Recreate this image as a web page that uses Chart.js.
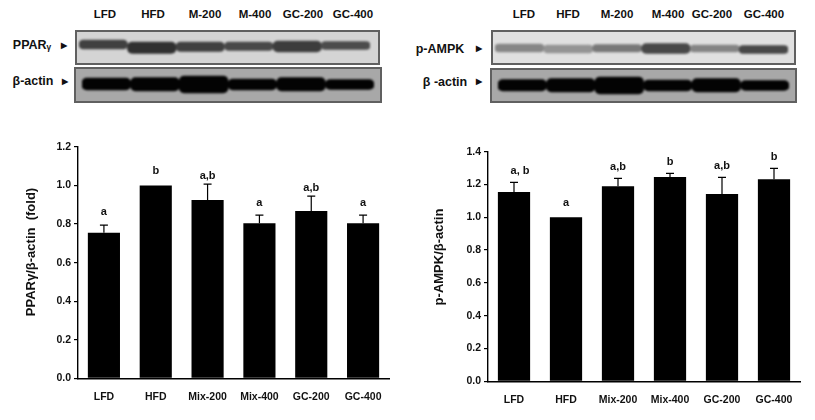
<!DOCTYPE html>
<html>
<head>
<meta charset="utf-8">
<script src="https://cdn.jsdelivr.net/npm/chart.js@4"></script>
<style>
  body { margin: 0; background: #fff; width: 815px; height: 420px; overflow: hidden; font-family: "Liberation Sans", Arial, sans-serif; font-weight: bold; color: #111; }
  .abs { position: absolute; }
  .blot { position: absolute; box-sizing: border-box; border: 2px solid #606060; overflow: hidden; }
  .blot canvas { filter: blur(1.2px); }
  .txt { position: absolute; white-space: nowrap; transform: translate(-50%, -50%); }
</style>
</head>
<body>
<div class="blot" style="left:75px;top:30px;width:305px;height:35px;background:#d4d4d4"><canvas id="blotA"></canvas></div>
<div class="blot" style="left:74px;top:67px;width:308px;height:36px;background:#a8a8a8"><canvas id="blotB"></canvas></div>
<div class="blot" style="left:491px;top:30px;width:305px;height:35px;background:#e0e0e0"><canvas id="blotC"></canvas></div>
<div class="blot" style="left:490px;top:68px;width:307px;height:35px;background:#a8a8a8"><canvas id="blotD"></canvas></div>
<canvas id="leftChart" class="abs" style="left:0;top:130px"></canvas>
<canvas id="rightChart" class="abs" style="left:410px;top:130px"></canvas>
<div id="labels"></div>
<script>
// bar values
var barLabels = ["LFD", "HFD", "Mix-200", "Mix-400", "GC-200", "GC-400"];
var ppar = [0.755, 1.0, 0.925, 0.805, 0.868, 0.805];
var pparErrTop = [0.795, null, 1.007, 0.847, 0.945, 0.847];
var pparLetters = ["a", "b", "a,b", "a", "a,b", "a"];
var pparLetterY = [0.864, 1.075, 1.052, 0.909, 0.985, 0.909];
var ampk = [1.154, 1.0, 1.19, 1.245, 1.142, 1.232];
var ampkErrTop = [1.213, null, 1.237, 1.268, 1.243, 1.298];
var ampkLetters = ["a, b", "a", "a,b", "b", "a,b", "b"];
var ampkLetterY = [1.284, 1.089, 1.305, 1.34, 1.315, 1.366];

// blot bands, low/high edge of each lane's band
var pparBandLow = [8, 10, 10, 10, 9, 9.5];
var pparBandHigh = [17, 21.5, 19.5, 18.5, 20, 17.5];
var actinBandLow = [9, 8.5, 7, 10, 8.5, 10.5];
var actinBandHigh = [21, 22, 24, 21, 22, 20.5];
var ampkBandLow = [12, 13, 12.5, 11.5, 13, 13.5];
var ampkBandHigh = [20, 21, 20, 21.5, 20, 21.5];
var actinBand2Low = [9.5, 8.5, 7, 10, 8.5, 10.5];
var actinBand2High = [21, 22, 24, 21, 22, 20.5];
var pparBandColor = ["#404040", "#303030", "#404040", "#484848", "#3c3c3c", "#4c4c4c"];
var actinBandColor = ["#030303", "#030303", "#030303", "#030303", "#030303", "#030303"];
var ampkBandColor = ["#868686", "#949494", "#787878", "#484848", "#848484", "#484848"];

function zip(a, b) {
  return a.map(function (v, i) { return [v, b[i]]; });
}

function makeBlot(can, w, h, low, high, colors, padL, padR) {
  var el = document.getElementById(can);
  el.width = w;
  el.height = h;
  return new Chart(el, {
    type: "bar",
    data: {
      labels: barLabels,
      datasets: [{
        data: zip(low, high),
        backgroundColor: colors,
        barPercentage: 1,
        categoryPercentage: 1,
        borderRadius: 5,
        borderSkipped: false
      }]
    },
    options: {
      responsive: false,
      animation: false,
      layout: { padding: { left: padL, right: padR } },
      plugins: { legend: { display: false }, tooltip: { enabled: false } },
      scales: {
        x: { display: false },
        y: { display: false, reverse: true, min: 0, max: h }
      }
    }
  });
}

var errPlugin = {
  id: "errPlugin",
  afterDatasetsDraw: function (chart, args, opts) {
    var c = chart.ctx, sx = chart.scales.x, sy = chart.scales.y;
    c.save();
    c.strokeStyle = "#000";
    c.lineWidth = 1.2;
    c.fillStyle = "#111";
    c.font = "bold 11px 'Liberation Sans'";
    c.textAlign = "center";
    c.textBaseline = "middle";
    opts.values.forEach(function (v, i) {
      var x = sx.getPixelForValue(i);
      if (opts.tops[i] !== null) {
        var t = sy.getPixelForValue(opts.tops[i]);
        c.beginPath();
        c.moveTo(x, sy.getPixelForValue(v));
        c.lineTo(x, t);
        c.moveTo(x - 4, t);
        c.lineTo(x + 4, t);
        c.stroke();
      }
      c.fillText(opts.letters[i], x + (opts.shift ? opts.shift[i] : 0), sy.getPixelForValue(opts.letterY[i]));
    });
    // axis title sits higher than the centre of the axis
    c.translate(opts.titleX, opts.titleY);
    c.rotate(-Math.PI / 2);
    c.font = "bold 13px 'Liberation Sans'";
    c.fillText(opts.title, 0, 0);
    c.restore();
  }
};

function makeBars(can, w, h, values, tops, letters, letterY, max, title, titleX, titleY, topPad, xHeight, rightPad, shift) {
  var el = document.getElementById(can);
  el.width = w;
  el.height = h;
  return new Chart(el, {
    type: "bar",
    data: {
      labels: barLabels,
      datasets: [{
        data: values,
        backgroundColor: "#000",
        barPercentage: 0.62,
        categoryPercentage: 1
      }]
    },
    plugins: [errPlugin],
    options: {
      responsive: false,
      animation: false,
      layout: { padding: { top: topPad, right: rightPad } },
      plugins: {
        legend: { display: false },
        tooltip: { enabled: false },
        errPlugin: { values: values, tops: tops, letters: letters, letterY: letterY, shift: shift, title: title, titleX: titleX, titleY: titleY }
      },
      scales: {
        x: {
          afterFit: function (s) { s.height = xHeight; },
          grid: { display: false },
          border: { color: "#000", width: 1.4 },
          ticks: { color: "#111", padding: 5, maxRotation: 0, autoSkip: false, font: { family: "Liberation Sans", weight: "bold", size: 10.5 } }
        },
        y: {
          min: 0,
          max: max,
          afterFit: function (s) { s.width = 78; },
          afterBuildTicks: function (s) {
            s.ticks = [];
            for (var i = 0; i <= max * 5 + 0.001; i++) s.ticks.push({ value: i / 5 });
          },
          grid: { drawOnChartArea: false, color: "#000", tickLength: 4, lineWidth: 1.2 },
          border: { color: "#000", width: 1.4 },
          ticks: { color: "#111", padding: 3, callback: function (v) { return v.toFixed(1); }, font: { family: "Liberation Sans", weight: "bold", size: 10.5 } }
        }
      }
    }
  });
}

makeBlot("blotA", 301, 31, pparBandLow, pparBandHigh, pparBandColor, 2, 8);
makeBlot("blotB", 304, 32, actinBandLow, actinBandHigh, actinBandColor, 6, 6);
makeBlot("blotC", 301, 31, ampkBandLow, ampkBandHigh, ampkBandColor, 2, 6);
makeBlot("blotD", 303, 31, actinBand2Low, actinBand2High, actinBandColor, 6, 6);

makeBars("leftChart", 400, 290, ppar, pparErrTop, pparLetters, pparLetterY, 1.2, "PPARγ/β-actin  (fold)", 31, 122, 17, 41.7, 11);
makeBars("rightChart", 405, 290, ampk, ampkErrTop, ampkLetters, ampkLetterY, 1.4, "p-AMPK/β-actin", 29, 127, 21.7, 38.7, 15, [6, 0, 0, 0, 0, 0]);

// text around the blots
var textItems = [
  ["LFD", 105, 14, 11.5], ["HFD", 153, 14, 11.5], ["M-200", 205, 14, 11.5], ["M-400", 255, 14, 11.5], ["GC-200", 303, 14, 11.5], ["GC-400", 353, 14, 11.5],
  ["LFD", 524, 14, 11.5], ["HFD", 568, 14, 11.5], ["M-200", 617, 14, 11.5], ["M-400", 668, 14, 11.5], ["GC-200", 712, 14, 11.5], ["GC-400", 764, 14, 11.5],
  ["PPARᵧ", 32, 45, 12.5], ["β-actin", 33, 81, 12.5], ["p-AMPK", 440, 49, 12.5], ["β -actin", 445, 82, 12.5],
  ["▶", 64, 45, 8], ["▶", 65, 81, 8], ["▶", 479, 48, 8], ["▶", 479, 81, 8]
];
var box = document.getElementById("labels");
textItems.forEach(function (t) {
  var d = document.createElement("div");
  d.className = "txt";
  d.textContent = t[0];
  d.style.left = t[1] + "px";
  d.style.top = t[2] + "px";
  d.style.fontSize = t[3] + "px";
  box.appendChild(d);
});
</script>
</body>
</html>
